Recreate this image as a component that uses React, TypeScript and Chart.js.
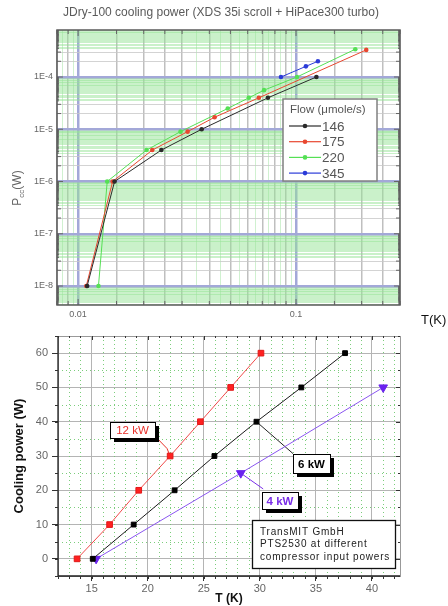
import React, { useEffect, useRef } from "react";
import { Chart, registerables } from "chart.js";
Chart.register(...registerables);

// ---------- Top chart data ----------
const TOP_TITLE = "JDry-100 cooling power (XDS 35i scroll + HiPace300 turbo)";
const LEGEND_TITLE = "Flow (\u03bcmole/s)";
const FLOW_LABELS = ["146", "175", "220", "345"];
const FLOW_COLORS = ["#2a2a2a", "#e8472f", "#55e055", "#2b3bd8"];
const T146 = [0.011, 0.0147, 0.0241, 0.0369, 0.0743, 0.124];
const P146 = [1e-8, 1e-6, 4e-6, 1e-5, 4e-5, 1e-4];
const T175 = [0.0109, 0.0144, 0.0219, 0.0318, 0.0423, 0.0675, 0.21];
const P175 = [1e-8, 1e-6, 4e-6, 9e-6, 1.7e-5, 4e-5, 3.3e-4];
const T220 = [0.0124, 0.0136, 0.0206, 0.0295, 0.0486, 0.0607, 0.0713, 0.101, 0.187];
const P220 = [1e-8, 1e-6, 4e-6, 9e-6, 2.5e-5, 4e-5, 5.6e-5, 1e-4, 3.4e-4];
const T345 = [0.0853, 0.111, 0.126];
const P345 = [1e-4, 1.6e-4, 2e-4];
const TOP_X_LABELS = ["0.01", "0.1"];
const TOP_Y_LABELS = ["1E-8", "1E-7", "1E-6", "1E-5", "1E-4"];

// ---------- Bottom chart data ----------
const BOT_LABELS = ["12 kW", "6 kW", "4 kW"];
const T12 = [13.7, 16.6, 19.2, 22.0, 24.7, 27.4, 30.1];
const Q12 = [0, 10, 20, 30, 40, 50, 60];
const T6 = [15.1, 18.75, 22.4, 25.95, 29.7, 33.7, 37.6];
const Q6 = [0, 10, 20, 30, 40, 50, 60];
const T4 = [15.4, 28.3, 41.0];
const Q4 = [0, 25, 50];
const BOT_X_TICKS = [15, 20, 25, 30, 35, 40];
const BOT_Y_TICKS = [0, 10, 20, 30, 40, 50, 60];
const INFO_LINES = ["TransMIT GmbH", "PTS2530 at different", "compressor input powers"];

const FONT = '"Liberation Sans", Arial, sans-serif';
const NARROW = '"Liberation Sans Narrow", "Liberation Sans", Arial, sans-serif';

// grid subdivisions inside a decade
const X_STEPS = [1, 1.5, 2, 2.5, 3, 3.5, 4, 4.5, 5, 5.5, 6, 6.5, 7, 7.5, 8, 8.5, 9, 9.5];
const Y_STEPS = [1, 2, 3, 3.5, 3.75, 4, 4.25, 4.5, 4.75, 5, 5.25, 5.5, 5.75, 6, 6.25, 6.5, 6.75, 7, 7.25, 7.5, 7.75, 8, 8.25, 8.5, 8.75, 9, 9.25, 9.5, 9.75];

function logGrid(steps: number[], nFrom: number, nTo: number, min: number, max: number) {
  const out: any[] = [];
  for (let n = nFrom; n <= nTo; n++) {
    for (const k of steps) {
      const v = k * Math.pow(10, n);
      if (v >= min * 0.9999 && v <= max * 1.0001) {
        out.push({ value: v, major: k === 1, kind: k === 1 ? "major" : (k < 3.5 || (Number.isInteger(k) && steps === X_STEPS)) ? "int" : "fine" });
      }
    }
  }
  return out;
}

function isDecade(v: number) {
  const l = Math.log10(v);
  return Math.abs(l - Math.round(l)) < 1e-6;
}

const topPlugin = {
  id: "topDecor",
  beforeDatasetsDraw(chart: any) {
    const { ctx, chartArea: a } = chart;
    ctx.save();
    ctx.strokeStyle = "#666";
    ctx.lineWidth = 1;
    const xs = chart.scales.x, ys = chart.scales.y;
    for (const t of xs.ticks) {
      if (t.kind === "fine") continue;
      const px = xs.getPixelForValue(t.value);
      const len = t.kind === "major" ? 6 : 4;
      ctx.beginPath();
      ctx.moveTo(px, a.bottom); ctx.lineTo(px, a.bottom - len);
      ctx.moveTo(px, a.top); ctx.lineTo(px, a.top + len);
      ctx.stroke();
    }
    for (const t of ys.ticks) {
      const py = ys.getPixelForValue(t.value);
      const len = t.kind === "major" ? 6 : t.kind === "int" ? 4 : 2;
      ctx.beginPath();
      ctx.moveTo(a.left, py); ctx.lineTo(a.left + len, py);
      ctx.moveTo(a.right, py); ctx.lineTo(a.right - len, py);
      ctx.stroke();
    }
    ctx.restore();
  },
  afterDraw(chart: any) {
    const { ctx, chartArea: a } = chart;
    ctx.save();
    // frame
    ctx.strokeStyle = "#5a5a5a";
    ctx.lineWidth = 1.5;
    ctx.strokeRect(a.left, a.top, a.right - a.left, a.bottom - a.top);
    // title
    ctx.fillStyle = "#5a5a5a";
    ctx.font = `12px ${FONT}`;
    ctx.textAlign = "center";
    ctx.textBaseline = "middle";
    ctx.fillText(TOP_TITLE, 221, 13);
    // y axis title with subscript
    ctx.translate(17, 188);
    ctx.rotate(-Math.PI / 2);
    ctx.textAlign = "left";
    ctx.textBaseline = "alphabetic";
    ctx.fillStyle = "#666";
    ctx.font = `12px ${FONT}`;
    const wP = ctx.measureText("P").width;
    ctx.font = `8px ${FONT}`;
    const wS = ctx.measureText("cc").width;
    ctx.font = `12px ${FONT}`;
    const wW = ctx.measureText("(W)").width;
    const x0 = -(wP + wS + wW) / 2;
    ctx.fillText("P", x0, 4);
    ctx.font = `8px ${FONT}`;
    ctx.fillText("cc", x0 + wP, 7);
    ctx.font = `12px ${FONT}`;
    ctx.fillText("(W)", x0 + wP + wS, 4);
    ctx.setTransform(1, 0, 0, 1, 0, 0);
    // legend
    const lx = 283, ly = 99, lw = 94, lh = 82;
    ctx.fillStyle = "#fff";
    ctx.fillRect(lx, ly, lw, lh);
    ctx.strokeStyle = "#808080";
    ctx.lineWidth = 1.5;
    ctx.strokeRect(lx, ly, lw, lh);
    ctx.fillStyle = "#555";
    ctx.font = `11.5px ${FONT}`;
    ctx.textBaseline = "middle";
    ctx.textAlign = "left";
    ctx.fillText(LEGEND_TITLE, lx + 7, ly + 11);
    chart.data.datasets.forEach((ds: any, i: number) => {
      const y = ly + 27 + i * 15.7;
      ctx.strokeStyle = ds.borderColor;
      ctx.lineWidth = 1.2;
      ctx.beginPath();
      ctx.moveTo(lx + 6, y); ctx.lineTo(lx + 38, y);
      ctx.stroke();
      ctx.fillStyle = ds.backgroundColor;
      ctx.beginPath();
      ctx.arc(lx + 22, y, 2.3, 0, Math.PI * 2);
      ctx.fill();
      ctx.fillStyle = "#555";
      ctx.font = `13.5px ${FONT}`;
      ctx.fillText(ds.label, lx + 39, y + 1);
    });
    ctx.restore();
  },
};

function topConfig(): any {
  const series = [[T146, P146], [T175, P175], [T220, P220], [T345, P345]];
  const xMin = 0.008, xMax = 0.3, yMin = 4.33e-9, yMax = 7.94e-4;
  const xGrid = logGrid(X_STEPS, -3, -1, xMin, xMax);
  const yGrid = logGrid(Y_STEPS, -9, -4, yMin, yMax);
  return {
    type: "scatter",
    data: {
      datasets: series.map(([xs, ys], i) => ({
        label: FLOW_LABELS[i],
        data: xs.map((x, j) => ({ x, y: ys[j] })),
        showLine: true,
        borderColor: FLOW_COLORS[i],
        backgroundColor: FLOW_COLORS[i],
        borderWidth: 1,
        pointRadius: 2.3,
        pointBorderWidth: 0,
        tension: 0,
      })),
    },
    options: {
      animation: false,
      responsive: false,
      devicePixelRatio: 1,
      layout: { padding: { left: 0, right: 48, top: 30, bottom: 0 } },
      plugins: { legend: { display: false }, title: { display: false }, tooltip: { enabled: false } },
      scales: {
        x: {
          type: "logarithmic",
          min: xMin,
          max: xMax,
          afterBuildTicks: (s: any) => { s.ticks = xGrid.map((t) => ({ ...t })); },
          afterFit: (s: any) => { s.height = 15; },
          ticks: {
            autoSkip: false,
            maxRotation: 0,
            padding: 4,
            color: "#666",
            font: { family: FONT, size: 9 },
            callback: (v: number) => {
              if (!isDecade(v)) return "";
              const idx = Math.round(Math.log10(v)) + 2;
              return TOP_X_LABELS[idx] ?? "";
            },
          },
          grid: {
            drawTicks: false,
            color: (c: any) => c.tick?.kind === "major" ? "#a3a8d8" : c.tick?.kind === "int" ? "rgba(180,180,180,0.85)" : "rgba(150,225,150,0.45)",
            lineWidth: (c: any) => c.tick?.kind === "major" ? 2.5 : c.tick?.kind === "int" ? 1.5 : 1,
          },
          border: { display: false },
        },
        y: {
          type: "logarithmic",
          min: yMin,
          max: yMax,
          afterBuildTicks: (s: any) => { s.ticks = yGrid.map((t) => ({ ...t })); },
          afterFit: (s: any) => { s.width = 57; },
          ticks: {
            autoSkip: false,
            padding: 4,
            color: "#666",
            font: { family: FONT, size: 9 },
            callback: (v: number) => {
              if (!isDecade(v)) return "";
              const idx = Math.round(Math.log10(v)) + 8;
              return TOP_Y_LABELS[idx] ?? "";
            },
          },
          grid: {
            drawTicks: false,
            color: (c: any) => c.tick?.kind === "major" ? "#a3a8d8" : c.tick?.kind === "int" ? "rgba(200,200,200,0.8)" : "rgba(150,228,150,0.5)",
            lineWidth: (c: any) => c.tick?.kind === "major" ? 2.5 : 1,
          },
          border: { display: false },
        },
      },
    },
    plugins: [topPlugin],
  };
}

// ---------- Bottom chart ----------
const ANNOTATIONS = [
  { text: "12 kW", color: "#e8302a", bold: false, x1: 16.6, y1: 39.9, x2: 20.65, y2: 35.2, leader: [[20.83, 35.2], [21.72, 32.2], [22.0, 30]] },
  { text: "6 kW", color: "#000000", bold: true, x1: 32.96, y1: 30.7, x2: 36.26, y2: 25.1, leader: [[29.7, 40], [32.96, 30.7]] },
  { text: "4 kW", color: "#7a2ee8", bold: true, x1: 30.2, y1: 19.5, x2: 33.4, y2: 14.5, leader: [[28.3, 25], [30.3, 20.4]] },
];
const INFO_BOX = { x1: 29.3, y1: 11.2, x2: 42.06, y2: -2.7 };

const botPlugin = {
  id: "botDecor",
  beforeDatasetsDraw(chart: any) {
    const { ctx, chartArea: a } = chart;
    const xs = chart.scales.x, ys = chart.scales.y;
    ctx.save();
    ctx.strokeStyle = "rgba(110,200,110,0.9)";
    ctx.lineWidth = 1;
    ctx.setLineDash([1, 3]);
    for (let v = 12; v <= 42; v++) {
      if (v % 5 === 0) continue;
      const px = Math.round(xs.getPixelForValue(v)) + 0.5;
      ctx.beginPath(); ctx.moveTo(px, a.top); ctx.lineTo(px, a.bottom); ctx.stroke();
    }
    for (let v = -5; v <= 65; v += 10) {
      const py = Math.round(ys.getPixelForValue(v)) + 0.5;
      ctx.beginPath(); ctx.moveTo(a.left, py); ctx.lineTo(a.right, py); ctx.stroke();
    }
    ctx.setLineDash([]);
    // frame
    ctx.strokeStyle = "#999";
    ctx.lineWidth = 1;
    ctx.strokeRect(a.left + 0.5, a.top + 0.5, a.right - a.left, a.bottom - a.top);
    ctx.strokeStyle = "#222";
    ctx.lineWidth = 1.3;
    ctx.beginPath();
    ctx.moveTo(a.left, a.top); ctx.lineTo(a.left, a.bottom); ctx.lineTo(a.right, a.bottom);
    ctx.stroke();
    // minor ticks
    ctx.lineWidth = 1;
    ctx.strokeStyle = "#333";
    for (let v = 12; v <= 42; v++) {
      const px = Math.round(xs.getPixelForValue(v)) + 0.5;
      ctx.beginPath(); ctx.moveTo(px, a.bottom); ctx.lineTo(px, a.bottom + 3); ctx.stroke();
      ctx.beginPath(); ctx.moveTo(px, a.top); ctx.lineTo(px, a.top + (v % 5 === 0 ? 4 : 2)); ctx.stroke();
    }
    for (let v = -5; v <= 65; v += 5) {
      const py = Math.round(ys.getPixelForValue(v)) + 0.5;
      ctx.beginPath(); ctx.moveTo(a.left - 3, py); ctx.lineTo(a.left, py); ctx.stroke();
      ctx.beginPath(); ctx.moveTo(a.right, py); ctx.lineTo(a.right - (v % 10 === 0 ? 4 : 2), py); ctx.stroke();
    }
    // leader lines
    ANNOTATIONS.forEach((an) => {
      ctx.strokeStyle = an.color === "#000000" ? "#222" : an.color;
      ctx.lineWidth = 1;
      ctx.beginPath();
      an.leader.forEach(([x, y], i) => {
        const px = xs.getPixelForValue(x), py = ys.getPixelForValue(y);
        if (i === 0) ctx.moveTo(px, py); else ctx.lineTo(px, py);
      });
      ctx.stroke();
    });
    ctx.restore();
  },
  afterDatasetsDraw(chart: any) {
    const { ctx } = chart;
    const xs = chart.scales.x, ys = chart.scales.y;
    ctx.save();
    ANNOTATIONS.forEach((an) => {
      const x1 = Math.round(xs.getPixelForValue(an.x1)), y1 = Math.round(ys.getPixelForValue(an.y1));
      const x2 = Math.round(xs.getPixelForValue(an.x2)), y2 = Math.round(ys.getPixelForValue(an.y2));
      ctx.fillStyle = "#000";
      ctx.fillRect(x1 + 4, y1 + 4, x2 - x1, y2 - y1);
      ctx.fillStyle = "#fff";
      ctx.fillRect(x1, y1, x2 - x1, y2 - y1);
      ctx.strokeStyle = "#000";
      ctx.lineWidth = 1;
      ctx.strokeRect(x1 + 0.5, y1 + 0.5, x2 - x1, y2 - y1);
      ctx.fillStyle = an.color;
      ctx.font = `${an.bold ? "bold " : ""}11.5px ${FONT}`;
      ctx.textAlign = "center";
      ctx.textBaseline = "middle";
      ctx.fillText(an.text, (x1 + x2) / 2, (y1 + y2) / 2 + 1);
    });
    const bx1 = Math.round(xs.getPixelForValue(INFO_BOX.x1)), by1 = Math.round(ys.getPixelForValue(INFO_BOX.y1));
    const bx2 = Math.round(xs.getPixelForValue(INFO_BOX.x2)), by2 = Math.round(ys.getPixelForValue(INFO_BOX.y2));
    ctx.fillStyle = "#fff";
    ctx.fillRect(bx1, by1, bx2 - bx1, by2 - by1);
    ctx.strokeStyle = "#111";
    ctx.lineWidth = 1.3;
    ctx.strokeRect(bx1 + 0.5, by1 + 0.5, bx2 - bx1, by2 - by1);
    ctx.fillStyle = "#222";
    ctx.font = `10px ${FONT}`;
    (ctx as any).letterSpacing = "0.8px";
    ctx.textAlign = "left";
    ctx.textBaseline = "middle";
    INFO_LINES.forEach((line, i) => ctx.fillText(line, bx1 + 8, by1 + 12 + i * 12.5));
    ctx.restore();
  },
};

function botConfig(): any {
  const mk = (xs: number[], ys: number[]) => xs.map((x, j) => ({ x, y: ys[j] }));
  return {
    type: "scatter",
    data: {
      datasets: [
        { label: BOT_LABELS[0], data: mk(T12, Q12), showLine: true, borderColor: "#f04a4a", borderWidth: 1, backgroundColor: "#ff2020", pointBackgroundColor: "#ff2020", pointBorderColor: "#e01818", pointStyle: "rect", pointRadius: 4, pointBorderWidth: 1 },
        { label: BOT_LABELS[1], data: mk(T6, Q6), showLine: true, borderColor: "#1a1a1a", borderWidth: 1, backgroundColor: "#000", pointBackgroundColor: "#000", pointBorderColor: "#000", pointStyle: "rect", pointRadius: 3.4, pointBorderWidth: 1 },
        { label: BOT_LABELS[2], data: mk(T4, Q4), showLine: true, borderColor: "#8a55f0", borderWidth: 1, backgroundColor: "#6a22ee", pointBackgroundColor: "#6a22ee", pointBorderColor: "#6a22ee", pointStyle: "triangle", rotation: 180, pointRadius: 5, pointBorderWidth: 1 },
      ],
    },
    options: {
      animation: false,
      responsive: false,
      devicePixelRatio: 1,
      layout: { padding: { left: 0, right: 48, top: 16, bottom: 0 } },
      plugins: { legend: { display: false }, title: { display: false }, tooltip: { enabled: false } },
      scales: {
        x: {
          type: "linear",
          min: 12,
          max: 42.5,
          afterBuildTicks: (s: any) => { s.ticks = BOT_X_TICKS.map((v) => ({ value: v })); },
          afterFit: (s: any) => { s.height = 30; },
          ticks: { autoSkip: false, maxRotation: 0, padding: 1, color: "#666", font: { family: FONT, size: 11 } },
          grid: { color: "#b4b4b4", lineWidth: 1, tickLength: 5, tickColor: "#333" },
          border: { display: false },
          title: { display: true, text: "T (K)", color: "#111", font: { family: NARROW, size: 12, weight: "bold" }, padding: { top: 0, bottom: 0 } },
        },
        y: {
          type: "linear",
          min: -5,
          max: 65,
          afterBuildTicks: (s: any) => { s.ticks = BOT_Y_TICKS.map((v) => ({ value: v })); },
          afterFit: (s: any) => { s.width = 58; },
          ticks: { autoSkip: false, padding: 4, color: "#666", font: { family: FONT, size: 11 } },
          grid: { color: "#b4b4b4", lineWidth: 1, tickLength: 6, tickColor: "#333" },
          border: { display: false },
          title: { display: true, text: "Cooling power (W)", color: "#111", font: { family: NARROW, size: 13, weight: "bold" }, padding: { top: 12, bottom: 0 } },
        },
      },
    },
    plugins: [botPlugin],
  };
}

export default function App() {
  const topRef = useRef<HTMLCanvasElement>(null);
  const botRef = useRef<HTMLCanvasElement>(null);
  useEffect(() => {
    const c1 = new Chart(topRef.current as HTMLCanvasElement, topConfig());
    const c2 = new Chart(botRef.current as HTMLCanvasElement, botConfig());
    return () => {
      c1.destroy();
      c2.destroy();
    };
  }, []);
  return (
    <div style={{ position: "absolute", left: 0, top: 0, width: 448, height: 606, background: "#fff", overflow: "hidden" }}>
      <canvas ref={topRef} width={448} height={320} style={{ position: "absolute", left: 0, top: 0, width: 448, height: 320 }} />
      <canvas ref={botRef} width={448} height={286} style={{ position: "absolute", left: 0, top: 320, width: 448, height: 286 }} />
      <span style={{ position: "absolute", left: 421, top: 312, font: `13px ${FONT}`, color: "#111", whiteSpace: "nowrap" }}>T(K)</span>
    </div>
  );
}
